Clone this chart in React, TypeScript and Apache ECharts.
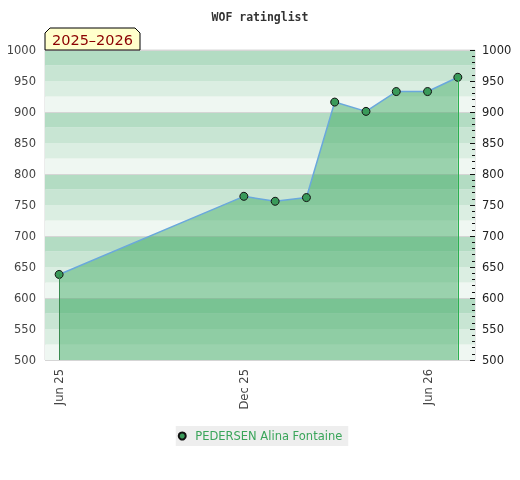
import React, { useEffect, useRef } from "react";
import * as echarts from "echarts";

const dates = [
  "2025-06-01", "2025-12-01", "2026-01-01", "2026-02-01", "2026-03-01",
  "2026-04-01", "2026-05-01", "2026-06-01", "2026-07-01",
];
const ratings = [638, 764, 756, 762, 916, 901, 933, 933, 956];
const xTickDates = ["2025-06-01", "2025-12-01", "2026-06-01"];
const bandColors = ["#eff7f2", "#dbeee2", "#c8e5d3", "#b3dcc3"];
const playerName = "PEDERSEN Alina Fontaine";
const seasonLabel = "2025\u20132026";
const chartTitle = "WOF ratinglist";
const months = ["Jan", "Feb", "Mar", "Apr", "May", "Jun", "Jul", "Aug", "Sep", "Oct", "Nov", "Dec"];

const ts = (d: string) => new Date(d + "T00:00:00Z").getTime();

export default function App() {
  const ref = useRef<HTMLDivElement>(null);
  useEffect(() => {
    if (!ref.current) return;
    const chart = echarts.init(ref.current, null, { renderer: "svg" });
    const data = dates.map((d, i) => [ts(d), ratings[i]]);
    const first = data[0];
    const last = data[data.length - 1];
    const font = "DejaVu Sans";
    chart.setOption({
      animation: false,
      textStyle: { fontFamily: font },
      title: {
        text: chartTitle,
        left: "center",
        top: 6,
        textStyle: { fontFamily: "DejaVu Sans Mono", fontSize: 11.5, fontWeight: "bold", color: "#333" },
      },
      grid: { left: 45, right: 45, top: 50, bottom: 120, show: true, borderColor: "#d8d8d8", borderWidth: 1 },
      xAxis: {
        type: "value",
        min: ts("2025-05-18"),
        max: ts("2026-07-18"),
        axisLine: { show: false },
        axisTick: { show: false },
        splitLine: { show: false },
        axisLabel: {
          customValues: xTickDates.map(ts),
          rotate: 90,
          color: "#444",
          fontSize: 11.5,
          margin: 9,
          formatter: (v: number) => {
            const d = new Date(v);
            return months[d.getUTCMonth()] + " " + String(d.getUTCFullYear()).slice(2);
          },
        },
      },
      yAxis: [
        {
          type: "value",
          min: 500,
          max: 1000,
          interval: 25,
          position: "left",
          axisLine: { show: false },
          axisTick: { show: false },
          splitLine: { show: false },
          splitArea: { show: true, areaStyle: { color: bandColors } },
          axisLabel: {
            color: "#444",
            fontSize: 11.5,
            margin: 9,
            formatter: (v: number) => (v % 50 === 0 ? String(v) : ""),
          },
        },
        {
          type: "value",
          min: 500,
          max: 1000,
          interval: 50,
          position: "right",
          axisLine: { show: false },
          axisTick: { show: true, inside: true, length: 5, lineStyle: { color: "#111" } },
          minorTick: { show: true, splitNumber: 5, length: 3, lineStyle: { color: "#111" } },
          splitLine: { show: false },
          axisLabel: { color: "#222", fontSize: 11.5, margin: 7, formatter: (v: number) => String(v) },
        },
        {
          type: "value",
          min: 500,
          max: 1000,
          interval: 100,
          show: true,
          position: "left",
          axisLine: { show: false },
          axisTick: { show: false },
          axisLabel: { show: false },
          splitLine: { show: true, lineStyle: { color: "#d5d5d5", width: 1 } },
        },
      ],
      legend: {
        bottom: 34,
        left: "center",
        icon: "circle",
        itemWidth: 16,
        itemHeight: 7,
        itemGap: 6,
        backgroundColor: "#eeeeee",
        padding: [4, 6, 4, 2],
        textStyle: { color: "#3aa55a", fontSize: 11.5 },
        data: [playerName],
      },
      graphic: [
        {
          type: "polygon",
          shape: { points: [[45, 50], [45, 33], [50, 28], [135, 28], [140, 33], [140, 50]] },
          style: { fill: "#ffffcc", stroke: "#000", lineWidth: 1 },
          z: 100,
        },
        {
          type: "text",
          x: 92.5,
          y: 40,
          style: {
            text: seasonLabel,
            fill: "#8b0000",
            font: "14.5px DejaVu Sans",
            textAlign: "center",
            textVerticalAlign: "middle",
          },
          z: 101,
        },
      ],
      series: [
        {
          name: playerName,
          type: "line",
          yAxisIndex: 0,
          data,
          symbol: "circle",
          symbolSize: 8,
          itemStyle: { color: "#3a9a5a", borderColor: "#111", borderWidth: 1 },
          lineStyle: { color: "#6aa8dc", width: 1.5 },
          areaStyle: { color: "rgb(50,164,88)", opacity: 0.45, origin: "start" },
          markLine: {
            silent: true,
            symbol: "none",
            label: { show: false },
            data: [
              [
                { coord: [first[0], first[1]], lineStyle: { color: "#3a8a50", width: 1, type: "solid" } },
                { coord: [first[0], 500] },
              ],
              [
                { coord: [last[0], last[1]], lineStyle: { color: "#2cb050", width: 1, type: "solid" } },
                { coord: [last[0], 500] },
              ],
            ],
          },
        },
      ],
    });
    return () => chart.dispose();
  }, []);
  return <div ref={ref} style={{ position: "fixed", left: 0, top: 0, width: 520, height: 480 }} />;
}
